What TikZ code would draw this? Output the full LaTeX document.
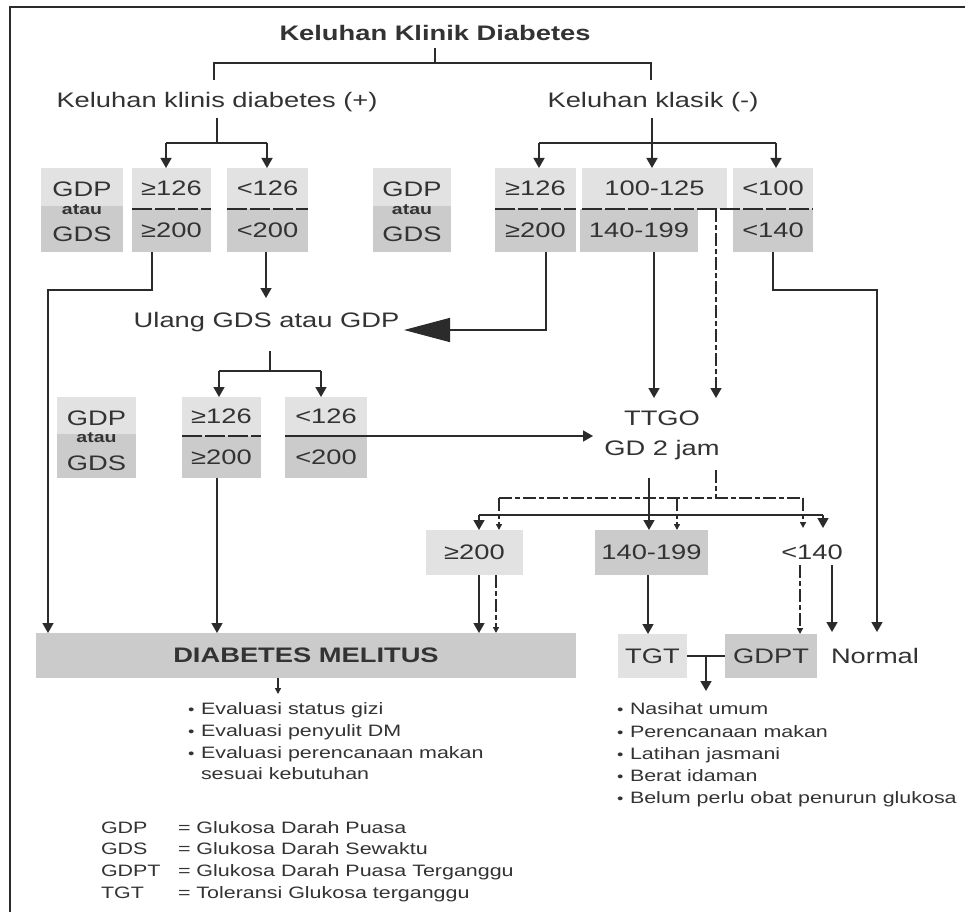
\documentclass[tikz,border=0pt]{standalone}
\usepackage{fontspec}
\setmainfont{Liberation Sans}[FakeStretch=1.3]
\usetikzlibrary{arrows.meta}
\definecolor{gL}{HTML}{E2E2E2}
\definecolor{gD}{HTML}{CBCBCB}
\definecolor{ink}{HTML}{2B2B2B}
\definecolor{txt}{HTML}{333333}
\newcommand\bigf{\fontsize{21}{25}\selectfont}
\newcommand\smf{\fontsize{16.5}{21}\selectfont}
\newcommand\atauf{\fontsize{15}{15}\selectfont\bfseries}
\newcommand\bul{\makebox[13pt][l]{\fontsize{14}{14}\selectfont •}}
\begin{document}
\begin{tikzpicture}[x=1pt,y=-1pt,
  cell/.style={inner sep=0pt,outer sep=0pt,text=txt,font=\bigf},
  lbox/.style={cell,fill=gL},
  dbox/.style={cell,fill=gD},
  lbl/.style={inner sep=0pt,outer sep=0pt,text=txt,font=\bigf},
  sml/.style={inner sep=0pt,outer sep=0pt,text=txt,font=\smf,anchor=base west},
  con/.style={draw=ink,line width=1.6pt},
  arr/.style={con,-{Triangle[length=10pt,width=11pt]}},
  sarr/.style={con,-{Triangle[length=6pt,width=6pt]}},
  dsh/.style={draw=ink,line width=1.5pt,dash pattern=on 13pt off 3pt on 5pt off 3pt},
  darr/.style={dsh,-{Triangle[length=6pt,width=6pt]}},
  dbig/.style={dsh,-{Triangle[length=10pt,width=11pt]}},
  divl/.style={draw=ink,line width=1.6pt,dash pattern=on 20pt off 3pt},
]
\fill[white] (0,0) rectangle (965,912);
\useasboundingbox (0,0) rectangle (965,912);
% frame
\draw[ink,line width=2pt] (10,912) -- (10,7) -- (965,7);

% ---------- texts top
\node[lbl,font=\bigf\bfseries] (title) at (435,33) {Keluhan Klinik Diabetes};
\node[lbl] (kpos) at (217,102) {Keluhan klinis diabetes (+)};
\node[lbl] (kneg) at (653,102) {Keluhan klasik (-)};

% ---------- row 1 boxes
\node[lbox,minimum width=82pt,minimum height=38pt] (g1t) at (82,187) {};
\node[dbox,minimum width=82pt,minimum height=46pt] (g1b) at (82,229) {};
\node[lbl] (g1p) at (82,189) {GDP};
\node[lbl,font=\atauf] (g1a) at (82,210) {atau};
\node[lbl] (g1s) at (82,234) {GDS};

\node[lbox,minimum width=79pt,minimum height=41pt] (a1t) at (171.5,188.5) {≥126};
\node[dbox,minimum width=79pt,minimum height=43pt] (a1b) at (171.5,230.5) {≥200};
\node[lbox,minimum width=81pt,minimum height=41pt] (a2t) at (267.5,188.5) {<126};
\node[dbox,minimum width=81pt,minimum height=43pt] (a2b) at (267.5,230.5) {<200};

\node[lbox,minimum width=78pt,minimum height=38pt] (g2t) at (412,187) {};
\node[dbox,minimum width=78pt,minimum height=46pt] (g2b) at (412,229) {};
\node[lbl] (g2p) at (412,189) {GDP};
\node[lbl,font=\atauf] (g2a) at (412,210) {atau};
\node[lbl] (g2s) at (412,234) {GDS};

\node[lbox,minimum width=81pt,minimum height=41pt] (b1t) at (535.5,188.5) {≥126};
\node[dbox,minimum width=81pt,minimum height=43pt] (b1b) at (535.5,230.5) {≥200};
\node[lbox,minimum width=145pt,minimum height=41pt] (b2t) at (654.5,188.5) {100-125};
\node[dbox,minimum width=118pt,minimum height=43pt] (b2b) at (639,230.5) {140-199};
\node[lbox,minimum width=80pt,minimum height=41pt] (b3t) at (773,188.5) {<100};
\node[dbox,minimum width=80pt,minimum height=43pt] (b3b) at (773,230.5) {<140};

\draw[divl] (a1b.north west) -- (a1b.north east);
\draw[divl] (a2b.north west) -- (a2b.north east);
\draw[divl] (b1b.north west) -- (b1b.north east);
\draw[divl] (b2t.south west) -- (b3t.south east);

% ---------- middle texts
\node[lbl] (ulang) at (266.5,322) {Ulang GDS atau GDP};
\node[lbl,align=center,font={\fontsize{21}{30}\selectfont}] (ttgo) at (662,435) {TTGO\\GD 2 jam};

% ---------- row 2 boxes
\node[lbox,minimum width=79pt,minimum height=37pt] (c0t) at (96.5,415.5) {};
\node[dbox,minimum width=79pt,minimum height=44pt] (c0b) at (96.5,456) {};
\node[lbl] (c0p) at (96.5,418) {GDP};
\node[lbl,font=\atauf] (c0a) at (96.5,438) {atau};
\node[lbl] (c0s) at (96.5,463) {GDS};
\node[lbox,minimum width=79pt,minimum height=39pt] (c1t) at (221.5,416.5) {≥126};
\node[dbox,minimum width=79pt,minimum height=42pt] (c1b) at (221.5,457) {≥200};
\node[lbox,minimum width=82pt,minimum height=39pt] (c2t) at (326,416.5) {<126};
\node[dbox,minimum width=82pt,minimum height=42pt] (c2b) at (326,457) {<200};
\draw[divl] (c1b.north west) -- (c1b.north east);

% ---------- results of TTGO
\node[lbox,minimum width=97pt,minimum height=45pt] (r1) at (474.5,552.5) {≥200};
\node[dbox,minimum width=113pt,minimum height=45pt] (r2) at (651.5,552.5) {140-199};
\node[lbl] (r3) at (812,552) {<140};

% ---------- final row
\node[dbox,minimum width=540pt,minimum height=45pt,font=\bigf\bfseries] (dm) at (306,655.5) {DIABETES MELITUS};
\node[lbox,minimum width=69pt,minimum height=44pt] (tgt) at (652.5,656) {TGT};
\node[dbox,minimum width=92pt,minimum height=44pt] (gdpt) at (771,656) {GDPT};
\node[lbl] (normal) at (875,656) {Normal};

% ---------- connectors top
\coordinate (p1) at (435,48);
\coordinate (p2) at (435,63);
\coordinate (p3) at (214,63);
\coordinate (p4) at (214,80);
\coordinate (p5) at (651,63);
\coordinate (p6) at (651,80);
\draw[con] (p1) -- (p2);
\draw[con] (p4) -- (p3) -- (p5) -- (p6);

\coordinate (q1) at (217,118);
\coordinate (q2) at (217,143);
\coordinate (q3) at (166,143);
\coordinate (q4) at (267,143);
\draw[con] (q1) -- (q2);
\draw[con] (q3) -- (q4);
\draw[arr] (q3) -- (q3 |- a1t.north);
\draw[arr] (q4) -- (q4 |- a2t.north);

\coordinate (q5) at (652,118);
\coordinate (q6) at (652,143);
\coordinate (q7) at (539,143);
\coordinate (q8) at (776,143);
\draw[con] (q5) -- (q6);
\draw[con] (q7) -- (q8);
\draw[arr] (q7) -- (q7 |- b1t.north);
\draw[arr] (q6) -- (q6 |- b2t.north);
\draw[arr] (q8) -- (q8 |- b3t.north);

% ---------- row 1 outputs
\coordinate (s1) at (152,290);
\coordinate (s2) at (48,290);
\draw[arr] (a1b.south -| s1) -- (s1) -- (s2) -- (s2 |- dm.north);
\coordinate (s3) at (266,298);
\draw[arr] (a2b.south -| s3) -- (s3);
\coordinate (s4) at (546,330);
\coordinate (s5) at (404,330);
\draw[con,-{Triangle[length=46pt,width=24pt]}] (b1b.south -| s4) -- (s4) -- (s5);
\coordinate (s6) at (654,398);
\draw[arr] (b2b.south -| s6) -- (s6);
\coordinate (s7) at (716,209);
\coordinate (s8) at (716,398);
\draw[dbig] (s7) -- (s8);
\coordinate (s9) at (773,290);
\coordinate (s10) at (877,290);
\coordinate (s11) at (877,632);
\draw[arr] (b3b.south -| s9) -- (s9) -- (s10) -- (s11);

% ---------- Ulang outputs
\coordinate (u1) at (270,351);
\coordinate (u2) at (270,371);
\coordinate (u3) at (219,371);
\coordinate (u4) at (321,371);
\draw[con] (u1) -- (u2);
\draw[con] (u3) -- (u4);
\draw[arr] (u3) -- (u3 |- c1t.north);
\draw[arr] (u4) -- (u4 |- c2t.north);

% ---------- row 2 outputs
\coordinate (v1) at (217,478);
\draw[arr] (v1) -- (v1 |- dm.north);
\coordinate (v3) at (593,436);
\draw[arr] (c2b.north west) -- (v3);

% ---------- TTGO outputs
\coordinate (w1) at (649,478);
\draw[arr] (w1) -- (w1 |- r2.north);
\coordinate (w2) at (716,470);
\coordinate (w3) at (716,498);
\draw[dsh] (w2) -- (w3);
\coordinate (w4) at (499,498);
\coordinate (w5) at (803,498);
\coordinate (w6) at (677,498);
\draw[dsh] (w4) -- (w5);
\draw[darr] (w4) -- (w4 |- r1.north);
\draw[darr] (w6) -- (w6 |- r2.north);
\coordinate (w7) at (803,528);
\draw[darr] (w5) -- (w7);
\coordinate (w8) at (479,515);
\coordinate (w9) at (823,515);
\coordinate (w10) at (823,528);
\draw[con] (w8) -- (w9);
\draw[arr] (w8) -- (w8 |- r1.north);
\draw[arr] (w9) -- (w10);

% ---------- results outputs
\coordinate (x1) at (479,575);
\coordinate (x2) at (496,575);
\draw[arr] (x1) -- (x1 |- dm.north);
\draw[darr] (x2) -- (x2 |- dm.north);
\coordinate (x3) at (648,575);
\draw[arr] (x3) -- (x3 |- tgt.north);
\coordinate (x4) at (800,565);
\coordinate (x5) at (832,565);
\coordinate (x6) at (832,632);
\draw[darr] (x4) -- (x4 |- gdpt.north);
\draw[arr] (x5) -- (x6);

% ---------- final connectors
\draw[con] (tgt.east) -- (gdpt.west);
\coordinate (y1) at (706,656);
\coordinate (y2) at (706,691);
\draw[arr] (y1) -- (y2);
\coordinate (z1) at (278,678);
\coordinate (z2) at (278,694);
\draw[sarr] (z1) -- (z2);

% ---------- bullet lists
\node[sml] (e1) at (188,714) {\bul Evaluasi status gizi};
\node[sml] (e2) at (188,736) {\bul Evaluasi penyulit DM};
\node[sml] (e3) at (188,758) {\bul Evaluasi perencanaan makan};
\node[sml] (e4) at (201,779) {sesuai kebutuhan};

\node[sml] (n1) at (617,714) {\bul Nasihat umum};
\node[sml] (n2) at (617,737) {\bul Perencanaan makan};
\node[sml] (n3) at (617,759) {\bul Latihan jasmani};
\node[sml] (n4) at (617,781) {\bul Berat idaman};
\node[sml] (n5) at (617,803) {\bul Belum perlu obat penurun glukosa};

% ---------- legend
\node[sml] (l1a) at (101,833) {GDP};
\node[sml] (l1b) at (178,833) {= Glukosa Darah Puasa};
\node[sml] (l2a) at (101,854) {GDS};
\node[sml] (l2b) at (178,854) {= Glukosa Darah Sewaktu};
\node[sml] (l3a) at (101,876) {GDPT};
\node[sml] (l3b) at (178,876) {= Glukosa Darah Puasa Terganggu};
\node[sml] (l4a) at (101,898) {TGT};
\node[sml] (l4b) at (178,898) {= Toleransi Glukosa terganggu};
\end{tikzpicture}
\end{document}
